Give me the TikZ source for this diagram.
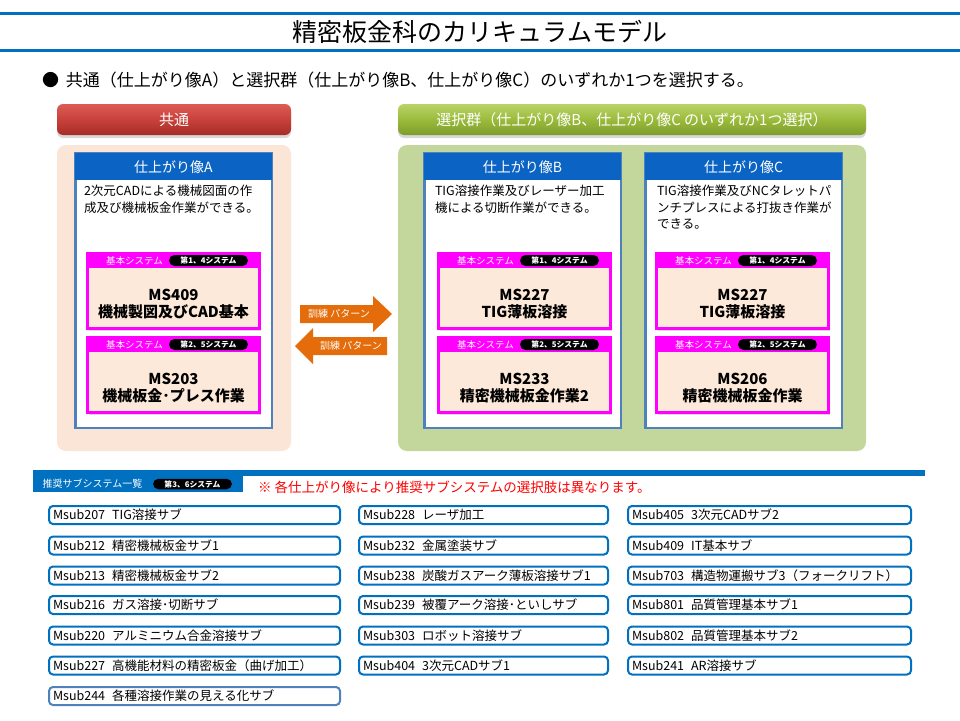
\documentclass[tikz,border=0pt]{standalone}
\usepackage{fontspec}
\setmainfont{Noto Sans CJK JP}
\usetikzlibrary{shadows}
\definecolor{titleblue}{HTML}{0070C0}
\definecolor{hdrblue}{HTML}{0B64C4}
\definecolor{brdblue}{HTML}{4F81BD}
\definecolor{peach}{HTML}{FBE5D6}
\definecolor{mspeach}{HTML}{FDE9D9}
\definecolor{greenbg}{HTML}{C3D69B}
\definecolor{mag}{HTML}{FF00FF}
\definecolor{orng}{HTML}{E46C0A}
\definecolor{redtop}{HTML}{DC5C55}
\definecolor{redmid}{HTML}{C8413A}
\definecolor{redbot}{HTML}{A52C27}
\definecolor{grntop}{HTML}{B8D468}
\definecolor{grnmid}{HTML}{9BBB3C}
\definecolor{grnbot}{HTML}{7D9C2C}
\definecolor{listblue}{HTML}{0070C0}
\definecolor{listblue2}{HTML}{4F81BD}
\newcommand{\sgap}{\hspace{7pt}}
\newcommand{\mkKbox}[6]{%
  \node[magbox, anchor=north west] (#1) at (#2,#3) {};
  \node[maghead, anchor=north] (#1h) at (#1.north) {};
  \node[kihon] (#1k) at ([xshift=47pt]#1h.west) {基本システム};
  \node[pill] (#1p) at ([xshift=121pt]#1h.west) {#4};
  \node[mstext] (#1a) at ([yshift=-41.5pt]#1.north) {#5};
  \node[mstext] (#1b) at ([yshift=-58.5pt]#1.north) {#6};
}
\newcommand{\mkUbox}[3]{%
  \node[bluebox, anchor=north west] (#1) at (#2,153.25) {};
  \node[bluehead, anchor=north] (#1h) at (#1.north) {#3};
}
\newcommand{\mkItem}[6]{%
  \node[itembox, draw=#6, minimum width=#4, anchor=west] (#1) at (#2,#3) {};
  \node[itemtext, anchor=west] (#1t) at ([xshift=4pt]#1.west) {#5};
}
\begin{document}
\begin{tikzpicture}[x=1pt,y=-1pt,
  every node/.style={inner sep=0pt, outer sep=0pt},
  hdrred/.style={rounded corners=6pt, minimum width=234pt, minimum height=31pt,
    top color=redtop, bottom color=redbot, middle color=redmid, text=white,
    font=\fontsize{15}{18}\selectfont,
    drop shadow={opacity=0.3, shadow xshift=0pt, shadow yshift=-3pt}},
  hdrgrn/.style={rounded corners=6pt, minimum width=468pt, minimum height=31pt,
    top color=grntop, bottom color=grnbot, middle color=grnmid, text=white,
    font=\fontsize{15}{18}\selectfont,
    drop shadow={opacity=0.3, shadow xshift=0pt, shadow yshift=-3pt}},
  area/.style={rounded corners=9pt, minimum height=306pt},
  bluebox/.style={draw=brdblue, line width=2.5pt, fill=white, minimum width=196.5pt, minimum height=274.5pt,
    drop shadow={opacity=0.25, shadow xshift=1pt, shadow yshift=-1.5pt}},
  bluehead/.style={fill=hdrblue, minimum width=196.5pt, minimum height=27pt, text=white,
    font=\fontsize{14}{16}\selectfont},
  desc/.style={anchor=west, font=\fontsize{12.5}{15}\selectfont},
  magbox/.style={draw=mag, line width=3pt, fill=mspeach, minimum width=172pt, minimum height=75pt,
    drop shadow={opacity=0.3, shadow xshift=1.5pt, shadow yshift=-2pt}},
  maghead/.style={fill=mag, minimum width=172pt, minimum height=14pt},
  kihon/.style={text=white, font=\fontsize{9.5}{11}\selectfont},
  pill/.style={fill=black, rounded corners=5.5pt, minimum width=79pt, minimum height=11pt,
    text=white, font=\fontsize{7.8}{8}\selectfont\bfseries},
  mstext/.style={font=\fontsize{15}{17}\selectfont\bfseries},
  arrowtext/.style={text=white, font=\fontsize{10}{12}\selectfont},
  itembox/.style={line width=2pt, rounded corners=4pt, fill=white, minimum height=18pt},
  itemtext/.style={font=\fontsize{12.5}{14}\selectfont}
]
\useasboundingbox (0,0) rectangle (960,720);
\fill[white] (0,0) rectangle (960,720);

% title
\fill[titleblue] (0,12) rectangle (960,15);
\fill[titleblue] (0,48.5) rectangle (960,51.5);
\node[font=\fontsize{25}{28}\selectfont] (title) at (480,31.5) {精密板金科のカリキュラムモデル};
\node[anchor=west, font=\fontsize{17}{19}\selectfont] (lead) at (42,80) {●\hspace{7pt}共通（仕上がり像A）と選択群（仕上がり像B、仕上がり像C）のいずれか1つを選択する。};

% common
\node[hdrred] (common) at (174,119.5) {共通};
\node[area, fill=peach, minimum width=234pt] (commonbg) at (174,298) {};
% selection group
\node[hdrgrn] (select) at (632,119.5) {選択群（仕上がり像B、仕上がり像C のいずれか1つ選択）};
\node[area, fill=greenbg, minimum width=468pt] (selectbg) at (632,298) {};

% blue boxes
\mkUbox{boxA}{75.25}{仕上がり像A}
\mkUbox{boxB}{424.25}{仕上がり像B}
\mkUbox{boxC}{645.25}{仕上がり像C}

\node[desc] (dA1) at (84,191) {2次元CADによる機械図面の作};
\node[desc] (dA2) at (84,207.5) {成及び機械板金作業ができる。};
\node[desc] (dB1) at (435,191) {TIG溶接作業及びレーザー加工};
\node[desc] (dB2) at (435,207.5) {機による切断作業ができる。};
\node[desc] (dC1) at (657,191) {TIG溶接作業及びNCタレットパ};
\node[desc] (dC2) at (657,207.5) {ンチプレスによる打抜き作業が};
\node[desc] (dC3) at (657,224) {できる。};

% magenta boxes
\mkKbox{kA1}{87.5}{253.5}{第1、4システム}{MS409}{機械製図及びCAD基本}
\mkKbox{kA2}{87.5}{337.5}{第2、5システム}{MS203}{機械板金･プレス作業}
\mkKbox{kB1}{438.5}{253.5}{第1、4システム}{MS227}{TIG薄板溶接}
\mkKbox{kB2}{438.5}{337.5}{第2、5システム}{MS233}{精密機械板金作業2}
\mkKbox{kC1}{656.5}{253.5}{第1、4システム}{MS227}{TIG薄板溶接}
\mkKbox{kC2}{656.5}{337.5}{第2、5システム}{MS206}{精密機械板金作業}

% arrows
\fill[orng] (300,305) -- (373,305) -- (373,296) -- (392,314) -- (373,332) -- (373,323) -- (300,323) -- cycle;
\node[arrowtext] (pat1) at (339,314) {訓練 パターン};
\fill[orng] (387,337) -- (313,337) -- (313,328) -- (295,346) -- (313,364) -- (313,355) -- (387,355) -- cycle;
\node[arrowtext] (pat2) at (351,346) {訓練 パターン};

% recommended subsystems
\fill[titleblue] (33,470) rectangle (925,475.5);
\node[fill=titleblue, minimum width=210pt, minimum height=22pt, anchor=north west] (rec) at (33,470) {};
\node[kihon, font=\fontsize{10}{11}\selectfont] (rect) at (92.5,484) {推奨サブシステム一覧};
\node[pill, minimum width=79pt, minimum height=10.5pt] (recp) at (192.5,484) {第3、6システム};
\node[anchor=west, text=red, font=\fontsize{13.5}{16}\selectfont] (note) at (258,487) {※ 各仕上がり像により推奨サブシステムの選択肢は異なります。};

% list
\mkItem{s207}{49}{515}{291pt}{Msub207\sgap TIG溶接サブ}{listblue}
\mkItem{s212}{49}{545.5}{291pt}{Msub212\sgap 精密機械板金サブ1}{listblue}
\mkItem{s213}{49}{575.5}{291pt}{Msub213\sgap 精密機械板金サブ2}{listblue}
\mkItem{s216}{49}{605}{291pt}{Msub216\sgap ガス溶接･切断サブ}{listblue}
\mkItem{s220}{49}{635.5}{291pt}{Msub220\sgap アルミニウム合金溶接サブ}{listblue}
\mkItem{s227}{49}{665.5}{291pt}{Msub227\sgap 高機能材料の精密板金（曲げ加工）}{listblue}
\mkItem{s244}{49}{696}{291pt}{Msub244\sgap 各種溶接作業の見える化サブ}{listblue2}

\mkItem{s228}{359}{515}{249pt}{Msub228\sgap レーザ加工}{listblue}
\mkItem{s232}{359}{545.5}{249pt}{Msub232\sgap 金属塗装サブ}{listblue}
\mkItem{s238}{359}{575.5}{249pt}{Msub238\sgap 炭酸ガスアーク薄板溶接サブ1}{listblue}
\mkItem{s239}{359}{605}{249pt}{Msub239\sgap 被覆アーク溶接･といしサブ}{listblue}
\mkItem{s303}{359}{635.5}{249pt}{Msub303\sgap ロボット溶接サブ}{listblue}
\mkItem{s404}{359}{665.5}{249pt}{Msub404\sgap 3次元CADサブ1}{listblue}

\mkItem{s405}{628}{515}{283pt}{Msub405\sgap 3次元CADサブ2}{listblue}
\mkItem{s409}{628}{545.5}{283pt}{Msub409\sgap IT基本サブ}{listblue}
\mkItem{s703}{628}{575.5}{283pt}{Msub703\sgap 構造物運搬サブ3（フォークリフト）}{listblue}
\mkItem{s801}{628}{605}{283pt}{Msub801\sgap 品質管理基本サブ1}{listblue}
\mkItem{s802}{628}{635.5}{283pt}{Msub802\sgap 品質管理基本サブ2}{listblue}
\mkItem{s241}{628}{665.5}{283pt}{Msub241\sgap AR溶接サブ}{listblue}
\end{tikzpicture}
\end{document}
